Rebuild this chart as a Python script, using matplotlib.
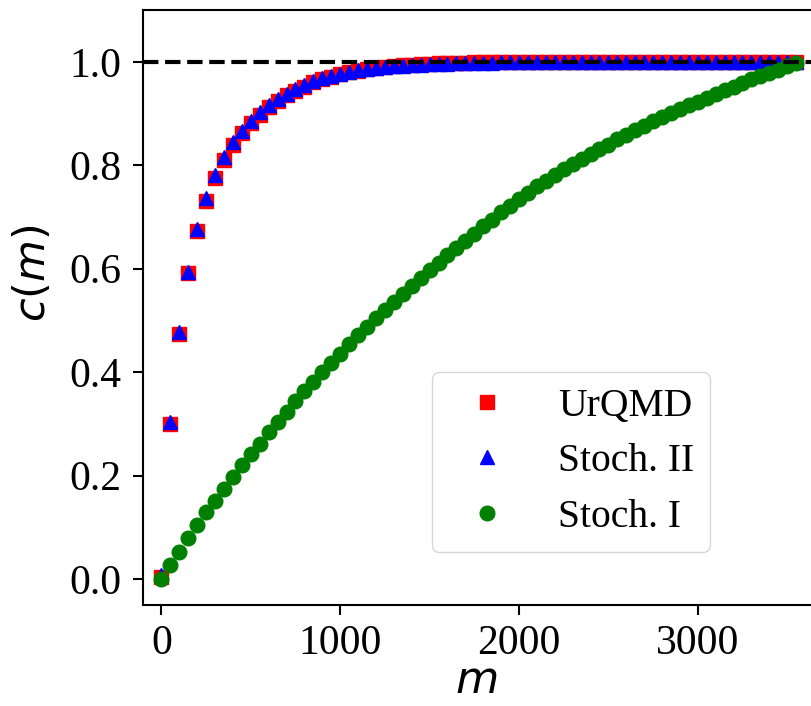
import matplotlib
matplotlib.use("Agg")
import matplotlib.pyplot as plt

m_vals = [0, 50, 100, 150, 200, 250, 300, 350, 400, 450,
          500, 550, 600, 650, 700, 750, 800, 850, 900, 950,
          1000, 1050, 1100, 1150, 1200, 1250, 1300, 1350, 1400, 1450,
          1500, 1550, 1600, 1650, 1700, 1750, 1800, 1850, 1900, 1950,
          2000, 2050, 2100, 2150, 2200, 2250, 2300, 2350, 2400, 2450,
          2500, 2550, 2600, 2650, 2700, 2750, 2800, 2850, 2900, 2950,
          3000, 3050, 3100, 3150, 3200, 3250, 3300, 3350, 3400, 3450,
          3500, 3550]

urqmd = [0.005, 0.300, 0.474, 0.591, 0.672, 0.731, 0.776, 0.811, 0.840, 0.862,
         0.882, 0.898, 0.912, 0.924, 0.935, 0.944, 0.952, 0.960, 0.966, 0.971,
         0.976, 0.980, 0.983, 0.986, 0.988, 0.990, 0.992, 0.993, 0.994, 0.995,
         0.996, 0.997, 0.997, 0.998, 0.998, 0.999, 0.999, 1.000, 1.000, 1.000,
         1.000, 1.000, 1.000, 1.000, 1.000, 1.000, 1.000, 1.000, 1.000, 1.000,
         1.000, 1.000, 1.000, 1.000, 1.000, 1.000, 1.000, 1.000, 1.000, 1.000,
         1.000, 1.000, 1.000, 1.000, 1.000, 1.000, 1.000, 1.000, 1.000, 1.000,
         1.000, 1.000]

stoch2 = [0.008, 0.303, 0.477, 0.594, 0.676, 0.736, 0.781, 0.816, 0.845, 0.867,
          0.886, 0.902, 0.916, 0.928, 0.938, 0.947, 0.955, 0.962, 0.968, 0.973,
          0.977, 0.981, 0.984, 0.986, 0.988, 0.990, 0.991, 0.992, 0.993, 0.994,
          0.995, 0.996, 0.996, 0.997, 0.997, 0.998, 0.998, 0.998, 0.999, 0.999,
          0.999, 0.999, 0.999, 0.999, 0.999, 0.999, 0.999, 0.999, 0.999, 0.999,
          1.000, 1.000, 1.000, 1.000, 1.000, 1.000, 1.000, 1.000, 1.000, 1.000,
          1.000, 1.000, 1.000, 1.000, 1.000, 1.000, 1.000, 1.000, 1.000, 1.000,
          1.000, 1.000]

stoch1 = [0.000, 0.028, 0.053, 0.079, 0.105, 0.129, 0.152, 0.175, 0.198, 0.220,
          0.242, 0.262, 0.284, 0.304, 0.324, 0.344, 0.363, 0.382, 0.400, 0.418,
          0.436, 0.454, 0.471, 0.488, 0.504, 0.520, 0.536, 0.552, 0.567, 0.582,
          0.597, 0.612, 0.627, 0.640, 0.654, 0.668, 0.682, 0.695, 0.709, 0.721,
          0.734, 0.747, 0.759, 0.770, 0.782, 0.792, 0.802, 0.812, 0.822, 0.831,
          0.840, 0.850, 0.859, 0.868, 0.876, 0.885, 0.893, 0.901, 0.908, 0.916,
          0.923, 0.930, 0.938, 0.945, 0.952, 0.959, 0.966, 0.972, 0.979, 0.985,
          0.991, 0.997]

labels = ["UrQMD", "Stoch. II", "Stoch. I"]
x_ticks = [0, 1000, 2000, 3000]
y_ticks = [0.0, 0.2, 0.4, 0.6, 0.8, 1.0]

serif = ["Liberation Serif", "DejaVu Serif"]

fig = plt.figure(figsize=(8.12, 7.06), dpi=100)
ax = fig.add_axes([0.1767, 0.143, 0.8368, 0.8428])

ms = 10.5
ax.plot(m_vals, urqmd, linestyle="none", marker="s", color="red", ms=ms, label=labels[0])
ax.plot(m_vals, stoch2, linestyle="none", marker="^", color="blue", ms=ms, label=labels[1])
ax.plot(m_vals, stoch1, linestyle="none", marker="o", color="green", ms=ms, label=labels[2])
ax.axhline(1.0, color="black", linestyle="--", lw=3, zorder=5)

ax.set_xlim(-100, 3700)
ax.set_ylim(-0.05, 1.1)
ax.set_xticks(x_ticks)
ax.set_yticks(y_ticks)
ax.set_xticklabels([str(v) for v in x_ticks], fontfamily=serif, fontsize=30)
ax.set_yticklabels(["%.1f" % v for v in y_ticks], fontfamily=serif, fontsize=30)
ax.tick_params(axis="both", length=7, width=1.5)
ax.tick_params(axis="x", pad=7)
ax.tick_params(axis="y", pad=9)
for s in ax.spines.values():
    s.set_linewidth(1.5)

ax.set_xlabel(r"$m$", fontsize=32)
ax.set_ylabel(r"$c(m)$", fontsize=31)
ax.xaxis.set_label_coords(0.49, -0.09)
ax.xaxis.label.set_va("top")
ax.yaxis.set_label_coords(-0.163, 0.558)
ax.yaxis.label.set_va("center")

leg = ax.legend(loc="lower left", bbox_to_anchor=(0.424, 0.0896), borderaxespad=0,
                prop={"family": serif, "size": 28.5}, labelspacing=0.47,
                handletextpad=0.8, handlelength=2.0, borderpad=0.4)

fig.savefig("out.png", dpi=100)
